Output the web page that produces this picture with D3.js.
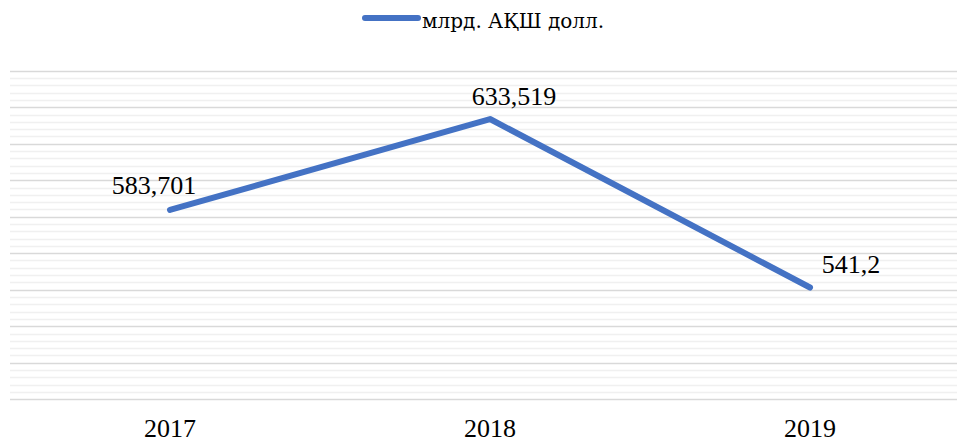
<!DOCTYPE html>
<html>
<head>
<meta charset="utf-8">
<script src="https://cdn.jsdelivr.net/npm/d3@7"></script>
<style>
  body { margin: 0; background: #fff; }
  svg { display: block; }
</style>
</head>
<body>
<script>
const width = 957,
	height = 443

const years = ["2017", "2018", "2019"]
const values = [583.701, 633.519, 541.2]
const valueLabels = ["583,701", "633,519", "541,2"]
const seriesName = "млрд. АҚШ долл."

const lineColor = "#4472c4"
const fontFamily = "Liberation Serif, Tinos, Times New Roman, DejaVu Serif, serif"

// label placement relative to point (dx, dy)
const labelOffsets = [[-16, -16], [24, -14], [41, -15]]

const x = d3.scalePoint()
	.domain(years)
	.range([170, 810])

const y = d3.scaleLinear()
	.domain([480, 660])
	.range([399.2, 70.7])

const svg = d3.select("body")
	.append("svg")
	.attr("width", width)
	.attr("height", height)
	.attr("font-family", fontFamily)

// minor grid
svg.append("g")
	.selectAll("line")
	.data(d3.range(480, 661, 4).filter(v => v % 20 !== 0))
	.join("line")
	.attr("x1", 10)
	.attr("x2", width)
	.attr("y1", d => Math.round(y(d)) + 0.5)
	.attr("y2", d => Math.round(y(d)) + 0.5)
	.attr("stroke", "#f0f0f0")
	.attr("stroke-width", 1.5)

// major grid
svg.append("g")
	.selectAll("line")
	.data(y.ticks(9))
	.join("line")
	.attr("x1", 10)
	.attr("x2", width)
	.attr("y1", d => Math.round(y(d)) + 0.5)
	.attr("y2", d => Math.round(y(d)) + 0.5)
	.attr("stroke", "#d9d9d9")
	.attr("stroke-width", 1.5)

// category labels
svg.append("g")
	.selectAll("text")
	.data(years)
	.join("text")
	.attr("x", d => x(d))
	.attr("y", 437)
	.attr("text-anchor", "middle")
	.attr("font-size", 26)
	.text(d => d)

const line = d3.line()
	.x((d, i) => x(years[i]))
	.y(d => y(d))

svg.append("path")
	.datum(values)
	.attr("d", line)
	.attr("fill", "none")
	.attr("stroke", lineColor)
	.attr("stroke-width", 6)
	.attr("stroke-linecap", "round")
	.attr("stroke-linejoin", "round")

// value labels
svg.append("g")
	.selectAll("text")
	.data(values)
	.join("text")
	.attr("x", (d, i) => x(years[i]) + labelOffsets[i][0])
	.attr("y", (d, i) => y(d) + labelOffsets[i][1])
	.attr("text-anchor", "middle")
	.attr("font-size", 26)
	.text((d, i) => valueLabels[i])

// legend
const legend = svg.append("g")
legend.append("line")
	.attr("x1", 365)
	.attr("x2", 418)
	.attr("y1", 18)
	.attr("y2", 18)
	.attr("stroke", lineColor)
	.attr("stroke-width", 6)
	.attr("stroke-linecap", "round")
legend.append("text")
	.attr("x", 422)
	.attr("y", 28)
	.attr("font-size", 20)
	.attr("font-family", "DejaVu Serif, serif")
	.text(seriesName)
</script>
</body>
</html>
